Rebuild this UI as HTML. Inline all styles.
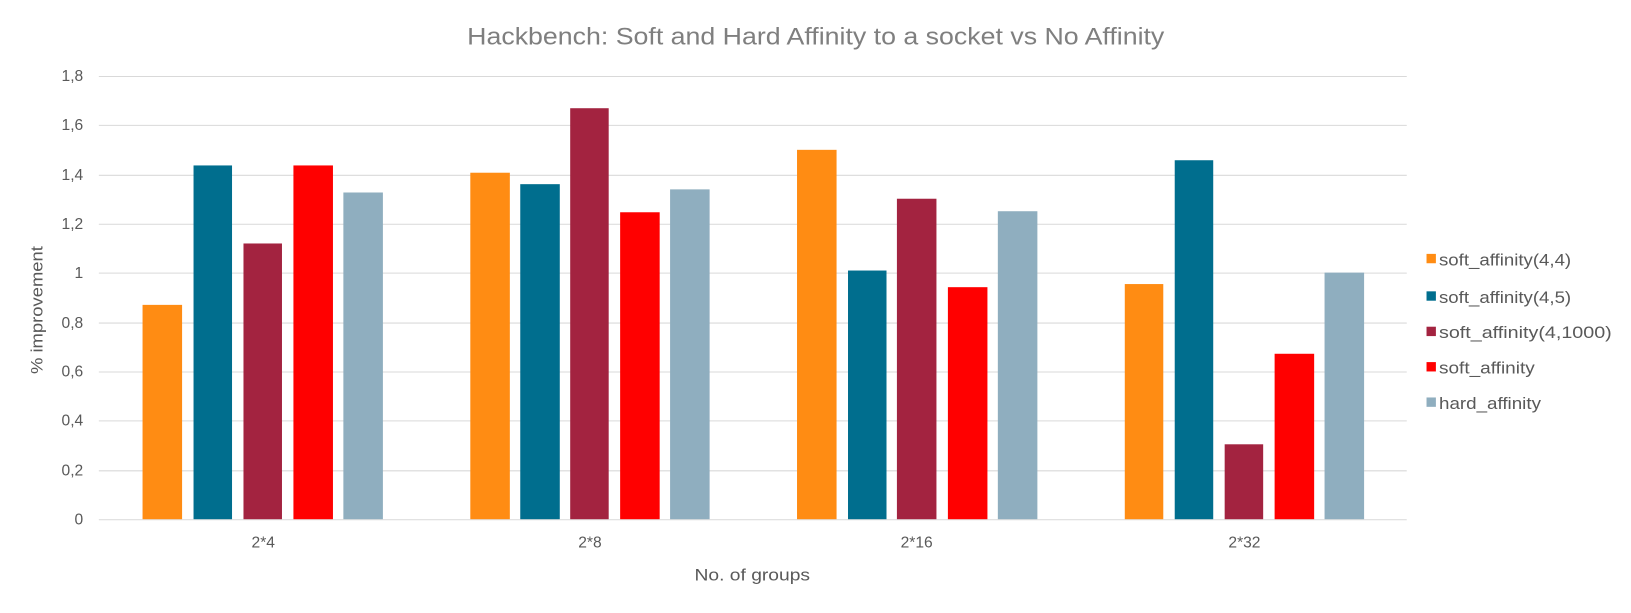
<!DOCTYPE html>
<html><head><meta charset="utf-8"><style>
body{margin:0;background:#fff;}
svg{display:block;font-family:"Liberation Sans",sans-serif;}
</style></head><body>
<svg width="1631" height="613" viewBox="0 0 1631 613">
<rect width="1631" height="613" fill="#fff"/>
<g transform="scale(1.0405)">
<text x="784" y="43" text-anchor="middle" font-size="23" fill="#7f7f7f" textLength="670" lengthAdjust="spacingAndGlyphs">Hackbench: Soft and Hard Affinity to a socket vs No Affinity</text>
<g stroke="#d9d9d9" stroke-width="1">
<line x1="95" x2="1352" y1="73.5" y2="73.5"/>
<line x1="95" x2="1352" y1="120.5" y2="120.5"/>
<line x1="95" x2="1352" y1="168.5" y2="168.5"/>
<line x1="95" x2="1352" y1="215.5" y2="215.5"/>
<line x1="95" x2="1352" y1="262.5" y2="262.5"/>
<line x1="95" x2="1352" y1="310.5" y2="310.5"/>
<line x1="95" x2="1352" y1="357.5" y2="357.5"/>
<line x1="95" x2="1352" y1="404.5" y2="404.5"/>
<line x1="95" x2="1352" y1="452.5" y2="452.5"/>
<line x1="95" x2="1352" y1="499.5" y2="499.5"/>
</g>
<g font-size="15" fill="#595959" text-anchor="end">
<text x="80" y="78">1,8</text><text x="80" y="125">1,6</text><text x="80" y="173">1,4</text>
<text x="80" y="220">1,2</text><text x="80" y="267">1</text><text x="80" y="315">0,8</text>
<text x="80" y="362">0,6</text><text x="80" y="409">0,4</text><text x="80" y="457">0,2</text>
<text x="80" y="504">0</text>
</g>
<text transform="translate(41,298) rotate(-90)" text-anchor="middle" font-size="16" fill="#595959" textLength="123" lengthAdjust="spacingAndGlyphs">% improvement</text>
<g font-size="15" fill="#595959" text-anchor="middle">
<text x="253" y="526">2*4</text><text x="567" y="526">2*8</text><text x="881" y="526">2*16</text><text x="1196" y="526">2*32</text>
</g>
<text x="723" y="558" text-anchor="middle" font-size="16" fill="#595959" textLength="111" lengthAdjust="spacingAndGlyphs">No. of groups</text>
<g>
<rect x="137" y="293" width="38" height="206" fill="#FF8C13"/>
<rect x="186" y="159" width="37" height="340" fill="#006E8E"/>
<rect x="234" y="234" width="37" height="265" fill="#A32340"/>
<rect x="282" y="159" width="38" height="340" fill="#FF0000"/>
<rect x="330" y="185" width="38" height="314" fill="#8FAEBF"/>

<rect x="452" y="166" width="38" height="333" fill="#FF8C13"/>
<rect x="500" y="177" width="38" height="322" fill="#006E8E"/>
<rect x="548" y="104" width="37" height="395" fill="#A32340"/>
<rect x="596" y="204" width="38" height="295" fill="#FF0000"/>
<rect x="644" y="182" width="38" height="317" fill="#8FAEBF"/>

<rect x="766" y="144" width="38" height="355" fill="#FF8C13"/>
<rect x="815" y="260" width="37" height="239" fill="#006E8E"/>
<rect x="862" y="191" width="38" height="308" fill="#A32340"/>
<rect x="911" y="276" width="38" height="223" fill="#FF0000"/>
<rect x="959" y="203" width="38" height="296" fill="#8FAEBF"/>

<rect x="1081" y="273" width="37" height="226" fill="#FF8C13"/>
<rect x="1129" y="154" width="37" height="345" fill="#006E8E"/>
<rect x="1177" y="427" width="37" height="72" fill="#A32340"/>
<rect x="1225" y="340" width="38" height="159" fill="#FF0000"/>
<rect x="1273" y="262" width="38" height="237" fill="#8FAEBF"/>
</g>
<g font-size="16" fill="#595959">
<rect x="1371" y="244" width="9" height="9" fill="#FF8C13"/><text x="1383" y="255" textLength="127" lengthAdjust="spacingAndGlyphs">soft_affinity(4,4)</text>
<rect x="1371" y="280" width="9" height="9" fill="#006E8E"/><text x="1383" y="291" textLength="127" lengthAdjust="spacingAndGlyphs">soft_affinity(4,5)</text>
<rect x="1371" y="314" width="9" height="9" fill="#A32340"/><text x="1383" y="325" textLength="166" lengthAdjust="spacingAndGlyphs">soft_affinity(4,1000)</text>
<rect x="1371" y="348" width="9" height="9" fill="#FF0000"/><text x="1383" y="359" textLength="92" lengthAdjust="spacingAndGlyphs">soft_affinity</text>
<rect x="1371" y="382" width="9" height="9" fill="#8FAEBF"/><text x="1383" y="393" textLength="98" lengthAdjust="spacingAndGlyphs">hard_affinity</text>
</g>
</g>
</svg>
</body></html>
